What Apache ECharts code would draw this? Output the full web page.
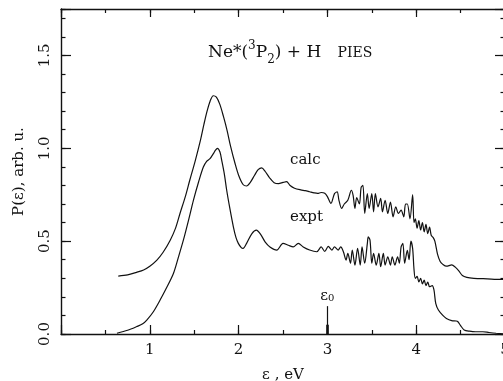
<!DOCTYPE html>
<html>
<head>
<meta charset="utf-8">
<script src="https://cdn.jsdelivr.net/npm/echarts@6/dist/echarts.min.js"></script>
<style>
html, body { margin: 0; padding: 0; background: #fff; }
#chart { width: 503px; height: 381px; }
</style>
</head>
<body>
<div id="chart"></div>
<script>
// calc curve: energy (eV) and P(e)
var calcE = [0.645, 0.75, 0.85, 0.93, 1.00, 1.08, 1.15, 1.23, 1.29, 1.34, 1.40, 1.45, 1.51, 1.57, 1.61, 1.645, 1.68, 1.715, 1.75, 1.79,
  1.83, 1.87, 1.91, 1.96, 2.00, 2.05, 2.09, 2.13, 2.18, 2.22, 2.26, 2.30, 2.35, 2.40, 2.45, 2.50, 2.54, 2.58, 2.63, 2.70,
  2.75, 2.80, 2.85, 2.89, 2.93, 2.97, 3.00, 3.04, 3.08, 3.11, 3.13, 3.16, 3.19, 3.23, 3.27, 3.29, 3.31, 3.33, 3.36, 3.38,
  3.40, 3.42, 3.45, 3.47, 3.50, 3.52, 3.54, 3.57, 3.60, 3.62, 3.65, 3.68, 3.71, 3.74, 3.77, 3.80, 3.83, 3.86, 3.88, 3.90,
  3.93, 3.96, 3.975, 3.99, 4.01, 4.03, 4.05, 4.07, 4.09, 4.11, 4.13, 4.15, 4.17, 4.19, 4.21, 4.24, 4.27, 4.30, 4.34, 4.40,
  4.44, 4.48, 4.52, 4.57, 4.65, 4.80, 4.95, 5.0];
var calcP = [0.312, 0.318, 0.332, 0.345, 0.365, 0.398, 0.44, 0.505, 0.57, 0.649, 0.74, 0.828, 0.93, 1.043, 1.13, 1.20, 1.255, 1.283, 1.275, 1.235,
  1.17, 1.097, 1.01, 0.918, 0.855, 0.805, 0.797, 0.815, 0.855, 0.885, 0.895, 0.875, 0.84, 0.815, 0.81, 0.816, 0.82, 0.80, 0.785, 0.776,
  0.772, 0.766, 0.760, 0.757, 0.762, 0.758, 0.74, 0.703, 0.756, 0.765, 0.72, 0.676, 0.70, 0.72, 0.774, 0.745, 0.676, 0.735, 0.70, 0.79,
  0.80, 0.65, 0.756, 0.676, 0.756, 0.658, 0.756, 0.685, 0.73, 0.658, 0.72, 0.649, 0.71, 0.631, 0.685, 0.649, 0.667, 0.631, 0.70, 0.70,
  0.62, 0.75, 0.60, 0.62, 0.57, 0.61, 0.56, 0.60, 0.55, 0.59, 0.54, 0.575, 0.53, 0.52, 0.50, 0.43, 0.39, 0.375, 0.365, 0.372,
  0.36, 0.34, 0.315, 0.305, 0.300, 0.297, 0.294, 0.294];

// expt curve
var exptE = [0.63, 0.75, 0.853, 0.92, 0.966, 1.04, 1.116, 1.19, 1.266, 1.32, 1.378, 1.44, 1.491, 1.55, 1.603, 1.64, 1.678, 1.716, 1.74, 1.761,
  1.79, 1.81, 1.84, 1.866, 1.90, 1.941, 1.97, 1.997, 2.03, 2.05, 2.09, 2.15, 2.20, 2.25, 2.30, 2.353, 2.43, 2.50, 2.56, 2.615,
  2.672, 2.728, 2.80, 2.88, 2.93, 2.97, 3.01, 3.05, 3.08, 3.12, 3.15, 3.18, 3.21, 3.23, 3.26, 3.28, 3.31, 3.34, 3.37, 3.39,
  3.42, 3.45, 3.46, 3.48, 3.50, 3.52, 3.55, 3.58, 3.60, 3.63, 3.65, 3.68, 3.71, 3.73, 3.76, 3.79, 3.81, 3.83, 3.85, 3.87,
  3.90, 3.92, 3.94, 3.96, 3.975, 3.99, 4.01, 4.03, 4.05, 4.07, 4.09, 4.11, 4.13, 4.15, 4.18, 4.20, 4.22, 4.25, 4.30, 4.34,
  4.40, 4.45, 4.47, 4.50, 4.54, 4.60, 4.67, 4.75, 4.82, 4.90, 5.0];
var exptP = [0.004, 0.02, 0.04, 0.055, 0.075, 0.12, 0.183, 0.25, 0.326, 0.41, 0.505, 0.62, 0.72, 0.82, 0.899, 0.93, 0.944, 0.971, 0.99, 1.0,
  0.98, 0.935, 0.86, 0.774, 0.68, 0.577, 0.52, 0.488, 0.465, 0.461, 0.488, 0.541, 0.559, 0.535, 0.495, 0.469, 0.452, 0.488, 0.478, 0.469,
  0.488, 0.469, 0.452, 0.443, 0.469, 0.445, 0.472, 0.452, 0.469, 0.452, 0.469, 0.443, 0.398, 0.434, 0.381, 0.452, 0.371, 0.461, 0.371, 0.469,
  0.381, 0.488, 0.523, 0.505, 0.381, 0.434, 0.371, 0.434, 0.362, 0.434, 0.371, 0.416, 0.371, 0.416, 0.371, 0.416, 0.381, 0.469, 0.488, 0.381,
  0.45, 0.40, 0.50, 0.46, 0.35, 0.30, 0.31, 0.28, 0.30, 0.27, 0.29, 0.26, 0.28, 0.255, 0.26, 0.237, 0.165, 0.129, 0.10, 0.084,
  0.072, 0.07, 0.066, 0.045, 0.022, 0.015, 0.012, 0.012, 0.008, 0.004, 0.0];

var eps0 = 3.0;        // threshold marker
var eps0Top = 0.15;
var xMin = 0, xMax = 5;
var yMin = 0, yMax = 1.75;

function pairs(xs, ys) {
  return xs.map(function (x, i) { return [x, ys[i]]; });
}

var font = 'DejaVu Serif';
var ink = '#111';

function xAx(pos, interval, len, main) {
  return {
    type: 'value', position: pos, min: xMin, max: xMax, interval: interval,
    axisLine: { show: main, onZero: false, lineStyle: { color: ink, width: 1.4 } },
    axisTick: { show: true, inside: true, length: len, lineStyle: { color: ink, width: 1.2 } },
    axisLabel: {
      show: main && pos === 'bottom', margin: 9, color: ink, fontFamily: font, fontSize: 15,
      formatter: function (v) { return v === 0 ? '' : String(v); }
    },
    splitLine: { show: false }
  };
}

function yAx(pos, interval, len, main) {
  return {
    type: 'value', position: pos, min: yMin, max: yMax, interval: interval,
    axisLine: { show: main, onZero: false, lineStyle: { color: ink, width: 1.4 } },
    axisTick: { show: true, inside: true, length: len, lineStyle: { color: ink, width: 1.2 } },
    axisLabel: {
      show: main && pos === 'left', rotate: 90, margin: 8, color: ink, fontFamily: font, fontSize: 15,
      formatter: function (v) {
        return Math.abs(v * 2 - Math.round(v * 2)) < 1e-6 ? v.toFixed(1) : '';
      }
    },
    splitLine: { show: false }
  };
}

var xAxes = [xAx('bottom', 1, 9, true), xAx('bottom', 0.5, 4, false), xAx('top', 1, 8, true), xAx('top', 0.5, 4, false)];
xAxes[0].name = 'ε , eV';
xAxes[0].nameLocation = 'middle';
xAxes[0].nameGap = 34;
xAxes[0].nameTextStyle = { color: ink, fontFamily: font, fontSize: 15 };

var yAxes = [yAx('left', 0.5, 10, true), yAx('left', 0.1, 4.5, false), yAx('right', 0.5, 10, true), yAx('right', 0.1, 4.5, false)];
yAxes[0].name = 'P(ε), arb. u.';
yAxes[0].nameLocation = 'middle';
yAxes[0].nameRotate = 90;
yAxes[0].nameGap = 34;
yAxes[0].nameTextStyle = { color: ink, fontFamily: font, fontSize: 15 };

var chart = echarts.init(document.getElementById('chart'));
chart.setOption({
  animation: false,
  backgroundColor: '#fff',
  title: {
    text: 'Ne*({sup|3}P{sub|2}) + H   {small|PIES}',
    left: 203, top: 35,
    textStyle: {
      color: ink, fontFamily: font, fontSize: 17, fontWeight: 'normal', lineHeight: 26,
      rich: {
        sup: { fontFamily: font, fontSize: 12, color: ink, verticalAlign: 'top', lineHeight: 13 },
        sub: { fontFamily: font, fontSize: 12, color: ink, verticalAlign: 'bottom', lineHeight: 13 },
        small: { fontFamily: font, fontSize: 14, color: ink }
      }
    }
  },
  grid: { left: 61, top: 9, width: 444, height: 325, outerBoundsMode: 'none' },
  xAxis: xAxes,
  yAxis: yAxes,
  graphic: [
    { type: 'text', left: 290, top: 153, style: { text: 'calc', fill: ink, font: '15px "DejaVu Serif"' } },
    { type: 'text', left: 290, top: 210, style: { text: 'expt', fill: ink, font: '15px "DejaVu Serif"' } }
  ],
  series: [
    {
      name: 'calc', type: 'line', showSymbol: false, smooth: 0.3,
      lineStyle: { color: ink, width: 1.2 },
      data: pairs(calcE, calcP)
    },
    {
      name: 'expt', type: 'line', showSymbol: false, smooth: 0.3,
      lineStyle: { color: ink, width: 1.2 },
      data: pairs(exptE, exptP),
      markLine: {
        silent: true, symbol: ['none', 'none'],
        lineStyle: { color: ink, type: 'solid', width: 1.2 },
        label: {
          show: true, position: 'end', distance: 3, color: ink,
          formatter: '{e|ε}{s|0}',
          rich: {
            e: { fontFamily: font, fontSize: 15, color: ink },
            s: { fontFamily: font, fontSize: 10, color: ink, verticalAlign: 'bottom', lineHeight: 10 }
          }
        },
        data: [
          [{ coord: [eps0, 0] }, { coord: [eps0, eps0Top] }],
          [{ coord: [eps0, 0], lineStyle: { width: 2.6 }, label: { show: false } }, { coord: [eps0, 0.05] }]
        ]
      }
    }
  ]
});
</script>
</body>
</html>
